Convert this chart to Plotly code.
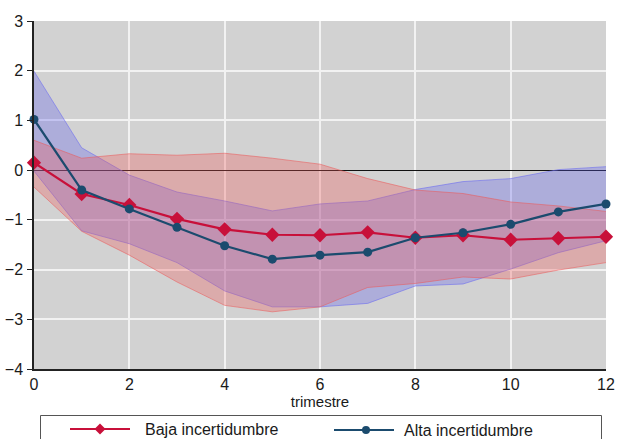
import plotly.graph_objects as go

# Horizon (quarters)
trimestre = list(range(13))

# Low-uncertainty response and its band
baja = [0.15, -0.48, -0.70, -0.98, -1.19, -1.30, -1.31, -1.25, -1.36, -1.31, -1.40, -1.37, -1.34]
baja_sup = [0.60, 0.24, 0.33, 0.30, 0.34, 0.24, 0.12, -0.17, -0.40, -0.47, -0.64, -0.72, -0.83]
baja_inf = [-0.34, -1.23, -1.71, -2.25, -2.72, -2.85, -2.75, -2.36, -2.28, -2.15, -2.19, -2.01, -1.86]

# High-uncertainty response and its band
alta = [1.02, -0.40, -0.78, -1.15, -1.52, -1.79, -1.71, -1.65, -1.36, -1.26, -1.09, -0.84, -0.68]
alta_sup = [1.99, 0.45, -0.10, -0.44, -0.62, -0.82, -0.68, -0.62, -0.39, -0.23, -0.17, 0.01, 0.07]
alta_inf = [-0.02, -1.22, -1.48, -1.86, -2.43, -2.75, -2.75, -2.68, -2.33, -2.29, -1.99, -1.66, -1.42]

series_names = ["Baja incertidumbre", "Alta incertidumbre"]
x_ticks = [0, 2, 4, 6, 8, 10, 12]
y_ticks = [-4, -3, -2, -1, 0, 1, 2, 3]

RED = "#C8103A"
BLUE = "#1B4B6E"
RED_FILL = "rgba(240,90,90,0.32)"
BLUE_FILL = "rgba(95,95,235,0.32)"
FONT = "Liberation Sans"

W, H = 618, 439
ML, MR, MT, MB = 34, 12, 21, 70
PW, PH = W - ML - MR, H - MT - MB


def px(x):
    return (x - ML) / PW


def py(y):
    return (H - MB - y) / PH


fig = go.Figure()


def add_band(lo, hi, fill, edge):
    fig.add_trace(go.Scatter(x=trimestre, y=hi, mode="lines",
                             line=dict(color=edge, width=1),
                             hoverinfo="skip", showlegend=False))
    fig.add_trace(go.Scatter(x=trimestre, y=lo, mode="lines", fill="tonexty",
                             fillcolor=fill, line=dict(color=edge, width=1),
                             hoverinfo="skip", showlegend=False))


add_band(alta_inf, alta_sup, BLUE_FILL, "rgba(110,110,240,0.6)")
add_band(baja_inf, baja_sup, RED_FILL, "rgba(235,90,90,0.55)")

fig.add_trace(go.Scatter(x=trimestre, y=baja, mode="lines+markers", name=series_names[0],
                         line=dict(color=RED, width=2.2),
                         marker=dict(symbol="diamond", size=11, color=RED),
                         showlegend=False, cliponaxis=False))
fig.add_trace(go.Scatter(x=trimestre, y=alta, mode="lines+markers", name=series_names[1],
                         line=dict(color=BLUE, width=2.2),
                         marker=dict(symbol="circle", size=9, color=BLUE),
                         showlegend=False, cliponaxis=False))

# Legend drawn as shapes and text below the plot
shapes = [
    dict(type="rect", xref="paper", yref="paper", x0=px(40.5), x1=px(601.5),
         y0=py(415.5), y1=py(460), line=dict(color="#555555", width=1),
         fillcolor="white", layer="above"),
]
legend_items = [
    (70, 130, 100, 429, RED, "diamond", 143),
    (334, 394, 366, 430, BLUE, "circle", 402),
]
annotations = []
for (lx0, lx1, mx, ly, col, sym, tx), name in zip(legend_items, series_names):
    shapes.append(dict(type="line", xref="paper", yref="paper", x0=px(lx0), x1=px(lx1),
                       y0=py(ly), y1=py(ly), line=dict(color=col, width=2.2), layer="above"))
    if sym == "diamond":
        shapes.append(dict(type="path", xref="paper", yref="paper",
                           xsizemode="pixel", ysizemode="pixel",
                           xanchor=px(mx), yanchor=py(ly),
                           path="M -5.5 0 L 0 5.5 L 5.5 0 L 0 -5.5 Z",
                           fillcolor=col, line=dict(color=col, width=0), layer="above"))
    else:
        shapes.append(dict(type="circle", xref="paper", yref="paper",
                           xsizemode="pixel", ysizemode="pixel",
                           xanchor=px(mx), yanchor=py(ly),
                           x0=-4, x1=4, y0=-4, y1=4,
                           fillcolor=col, line=dict(color=col, width=0), layer="above"))
    annotations.append(dict(text=name, xref="paper", yref="paper", x=px(tx), y=py(ly),
                            xanchor="left", yanchor="middle", showarrow=False,
                            font=dict(size=16, color="#1a1a1a", family=FONT)))

fig.update_layout(
    width=W, height=H,
    margin=dict(l=ML, r=MR, t=MT, b=MB),
    paper_bgcolor="white",
    plot_bgcolor="#D2D2D2",
    font=dict(family=FONT, size=16, color="#1a1a1a"),
    shapes=shapes,
    annotations=annotations,
    showlegend=False,
    xaxis=dict(range=[0, 12], tickvals=x_ticks, showgrid=True, gridcolor="#F2F2F2",
               gridwidth=1.5, zeroline=False, showline=True, linecolor="#222222",
               linewidth=1.5, ticks="", automargin=False,
               tickfont=dict(size=16),
               title=dict(text="trimestre", standoff=0, font=dict(size=15))),
    yaxis=dict(range=[-4, 3], tickvals=y_ticks, showgrid=True, gridcolor="#F2F2F2",
               gridwidth=1.5, zeroline=True, zerolinecolor="#111111", zerolinewidth=1,
               showline=True, linecolor="#222222", linewidth=1.5, ticks="outside",
               ticklen=5, tickcolor="#222222", ticklabelstandoff=1, automargin=False,
               tickfont=dict(size=16)),
)

fig.write_html("out.html")
